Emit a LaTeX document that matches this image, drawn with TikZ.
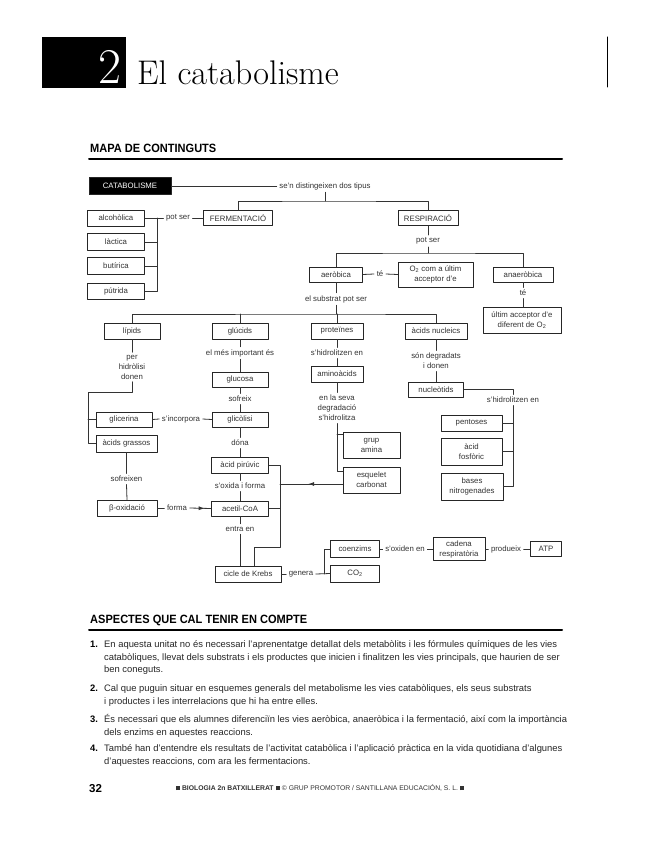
\documentclass[tikz,border=0pt]{standalone}
\usepackage{fontspec}
\setsansfont{Liberation Sans}
\newfontfamily\headfont[FakeStretch=0.92]{Liberation Sans}
\usetikzlibrary{arrows.meta,decorations.markings}

\tikzset{
	box/.style={draw=black!85, line width=0.8pt, minimum height=16pt, inner sep=1pt, align=center, text=black!80, font=\sffamily\fontsize{7.8}{10}\selectfont},
	tallbox/.style={box, minimum height=26pt},
	lbl/.style={inner sep=2.5pt, align=center, text=black!80, font=\sffamily\fontsize{7.8}{10}\selectfont},
	conn/.style={draw=black!80, line width=0.8pt},
	midarrow/.style={postaction={decorate}, decoration={markings, mark=at position #1 with {\arrow{Latex[length=6pt,width=4pt]}}}},
	head/.style={anchor=base west, inner sep=0pt, font=\headfont\bfseries\fontsize{12}{12}\selectfont},
	item/.style={anchor=north west, inner sep=0pt, align=left, text=black!85, font=\sffamily\fontsize{9.4}{12.3}\selectfont},
	num/.style={anchor=north west, inner sep=0pt, font=\sffamily\bfseries\fontsize{9.4}{12.3}\selectfont},
}
\newcommand{\firstln}{\rule{0pt}{9pt}}

\begin{document}
\begin{tikzpicture}[x=1pt, y=-1pt, line join=round, line cap=round]
	\useasboundingbox[fill=white] (0,0) rectangle (651,848);

	% capçalera
	\node[fill=black, minimum width=84pt, minimum height=51pt, anchor=north west, inner sep=0pt] (numbox) at (42,37) {};
	\node[anchor=base east, inner sep=0pt, text=white, font=\fontsize{50}{50}\selectfont] (numtxt) at (122,84) {2};
	\node[anchor=base west, inner sep=0pt, font=\fontsize{34.2}{34}\selectfont] (title) at (137,85) {El catabolisme};
	\draw[line width=1pt] (607,37) -- (607,87);
	\node[head] (mapa) at (90,152) {MAPA DE CONTINGUTS};
	\draw[line width=2pt] (89,159) -- (562,159);

	% catabolisme i tipus
	\node[box, fill=black, text=white, minimum width=82pt, minimum height=17pt] (catab) at (130,186) {CATABOLISME};
	\node[lbl] (dostipus) at (325,186) {se'n distingeixen dos tipus};
	\node[box, minimum width=69pt, minimum height=15pt] (ferm) at (238,218) {FERMENTACIÓ};
	\node[box, minimum width=60pt, minimum height=15pt] (resp) at (428,218) {RESPIRACIÓ};
	\node[lbl] (potser1) at (178,218) {pot ser};
	\node[box, minimum width=57pt] (alcoh) at (116,218) {alcohòlica};
	\node[box, minimum width=57pt, minimum height=17pt] (lact) at (116,242) {làctica};
	\node[box, minimum width=57pt, minimum height=17pt] (butir) at (116,266) {butírica};
	\node[box, minimum width=57pt] (putr) at (116,291) {pútrida};
	\node[lbl] (potser2) at (428,241) {pot ser};
	\node[box, minimum width=53pt, minimum height=15pt] (aerob) at (336,274.5) {aeròbica};
	\node[lbl] (te1) at (380,274) {té};
	\node[tallbox, minimum width=75pt, minimum height=25pt] (otwo) at (435.5,274.5) {O\textsubscript{2} com a últim\\acceptor d'e};
	\node[box, minimum width=60pt, minimum height=15pt] (anaer) at (523,274.5) {anaeròbica};
	\node[lbl] (te2) at (523,293) {té};
	\node[tallbox, minimum width=78pt] (ultim) at (522,320.5) {últim acceptor d'e\\diferent de O\textsubscript{2}};
	\node[lbl] (subst) at (336,299) {el substrat pot ser};

	% substrats
	\node[box, minimum width=56pt] (lipids) at (132,331) {lípids};
	\node[box, minimum width=56pt] (glucids) at (240,331) {glúcids};
	\node[box, minimum width=52pt] (prot) at (337,331) {proteïnes};
	\node[box, minimum width=62pt] (nucl) at (436,331) {àcids nucleics};

	\node[lbl] (perhid) at (132,367) {per\\hidròlisi\\donen};
	\node[box, minimum width=56pt, minimum height=15pt] (glicer) at (124,419.5) {glicerina};
	\node[box, minimum width=61pt, minimum height=17pt] (grassos) at (126.5,443.5) {àcids grassos};
	\node[lbl] (sofreixen) at (126.5,479) {sofreixen};
	\node[box, minimum width=60pt] (betaox) at (127,508) {β-oxidació};

	\node[lbl] (mesimp) at (240,353) {el més important és};
	\node[box, minimum width=56pt, minimum height=15pt] (glucosa) at (240,379.5) {glucosa};
	\node[lbl] (sofreix) at (240,399) {sofreix};
	\node[box, minimum width=56pt, minimum height=15pt] (glicol) at (240,419.5) {glicòlisi};
	\node[lbl] (incorp) at (181,419) {s'incorpora};
	\node[lbl] (dona) at (240,443) {dóna};
	\node[box, minimum width=57pt] (piruv) at (240,465) {àcid pirúvic};
	\node[lbl] (oxida) at (240,486) {s'oxida i forma};
	\node[box, minimum width=57pt, minimum height=15pt] (acetil) at (240,508.5) {acetil-CoA};
	\node[lbl] (forma) at (177,508) {forma};
	\node[lbl] (entra) at (240,529) {entra en};
	\node[box, minimum width=66pt] (krebs) at (248,574) {cicle de Krebs};

	\node[lbl] (hidro1) at (337,353) {s'hidrolitzen en};
	\node[box, minimum width=52pt] (amino) at (337,374) {aminoàcids};
	\node[lbl] (degrad) at (337,408) {en la seva\\degradació\\s'hidrolitza};
	\node[tallbox, minimum width=57pt] (amina) at (371.5,445) {grup\\amina};
	\node[tallbox, minimum width=57pt] (esquel) at (371.5,480) {esquelet\\carbonat};

	\node[lbl] (sondeg) at (436,361) {són degradats\\i donen};
	\node[box, minimum width=55pt, minimum height=15pt] (nucleot) at (436,389.5) {nucleòtids};
	\node[lbl] (hidro2) at (513,400) {s'hidrolitzen en};
	\node[box, minimum width=61pt] (pentos) at (471.5,423) {pentoses};
	\node[tallbox, minimum width=61pt, minimum height=27pt] (fosfor) at (471.5,451.5) {àcid\\fosfòric};
	\node[tallbox, minimum width=62pt, minimum height=27pt] (bases) at (472,486.5) {bases\\nitrogenades};

	\node[lbl] (genera) at (301,574) {genera};
	\node[box, minimum width=49pt, minimum height=17pt] (coenz) at (355,549) {coenzims};
	\node[box, minimum width=49pt, minimum height=17pt] (co2) at (355,573.5) {CO\textsubscript{2}};
	\node[lbl] (oxiden) at (405,549) {s'oxiden en};
	\node[tallbox, minimum width=52pt, minimum height=23pt] (cadena) at (459,549) {cadena\\respiratòria};
	\node[lbl] (produeix) at (506,549) {produeix};
	\node[box, minimum width=31pt, minimum height=15pt] (atp) at (546,549) {ATP};

	% connexions
	\coordinate (split) at (325,201);
	\coordinate (fbus) at (157,218);
	\coordinate (rbus) at (428,253);
	\coordinate (sbus) at (336,314);
	\coordinate (lbus) at (88,392);
	\coordinate (kbus) at (280,547);
	\coordinate (gbus) at (324,574);
	\draw[conn] (catab.east) -- (dostipus.west);
	\draw[conn] (dostipus.south) -- (split);
	\draw[conn] (ferm.north) |- (split) -| (resp.north);
	\draw[conn] (ferm.west) -- (potser1.east);
	\draw[conn] (potser1.west) -- (alcoh.east);
	\draw[conn] (fbus) |- (putr.east);
	\draw[conn] (lact.east) -- (lact.east -| fbus);
	\draw[conn] (butir.east) -- (butir.east -| fbus);
	\draw[conn] (resp.south) -- (potser2.north);
	\draw[conn] (potser2.south) -- (rbus);
	\draw[conn] (aerob.north) |- (rbus) -| (anaer.north);
	\draw[conn] (aerob.east) -- (te1.west);
	\draw[conn] (te1.east) -- (otwo.west);
	\draw[conn] (anaer.south) -- (te2.north);
	\draw[conn] (te2.south) -- (te2.south |- ultim.north);
	\draw[conn] (aerob.south) -- (subst.north);
	\draw[conn] (subst.south) -- (sbus);
	\draw[conn] (lipids.north) |- (sbus) -| (nucl.north);
	\draw[conn] (glucids.north) -- (glucids.north |- sbus);
	\draw[conn] (prot.north) -- (prot.north |- sbus);

	\draw[conn] (lipids.south) -- (perhid.north);
	\draw[conn] (perhid.south) |- (lbus) |- (grassos.west);
	\draw[conn] (glicer.west) -- (glicer.west -| lbus);
	\draw[conn] (glicer.east) -- (incorp.west);
	\draw[conn] (incorp.east) -- (glicol.west);
	\draw[conn] (grassos.south) -- (sofreixen.north);
	\draw[conn] (sofreixen.south) -- (betaox.north);
	\draw[conn] (betaox.east) -- (forma.west);
	\draw[conn, midarrow=0.7] (forma.east) -- (acetil.west);

	\draw[conn] (glucids.south) -- (mesimp.north);
	\draw[conn] (mesimp.south) -- (glucosa.north);
	\draw[conn] (glucosa.south) -- (sofreix.north);
	\draw[conn] (sofreix.south) -- (glicol.north);
	\draw[conn] (glicol.south) -- (dona.north);
	\draw[conn] (dona.south) -- (piruv.north);
	\draw[conn] (piruv.south) -- (oxida.north);
	\draw[conn] (oxida.south) -- (acetil.north);
	\draw[conn] (acetil.south) -- (entra.north);
	\draw[conn] (entra.south) -- (entra.south |- krebs.north);
	\draw[conn] (piruv.east) -| (kbus) -| ([xshift=6pt]krebs.north);
	\draw[conn] (acetil.east) -- (acetil.east -| kbus);
	\draw[conn, midarrow=0.55] ([yshift=-4pt]esquel.west) -- ([yshift=-4pt]esquel.west -| kbus);

	\draw[conn] (prot.south) -- (hidro1.north);
	\draw[conn] (hidro1.south) -- (amino.north);
	\draw[conn] (amino.south) -- (degrad.north);
	\draw[conn] (degrad.south) |- ([yshift=-5pt]esquel.north west);
	\draw[conn] ([yshift=-3pt]amina.north west) -- ([yshift=-3pt]amina.north west -| degrad.south);

	\draw[conn] (nucl.south) -- (sondeg.north);
	\draw[conn] (sondeg.south) -- (nucleot.north);
	\draw[conn] (nucleot.east) -| (hidro2.north);
	\draw[conn] (hidro2.south) |- (bases.east);
	\draw[conn] (pentos.east) -- (pentos.east -| hidro2.south);
	\draw[conn] (fosfor.east) -- (fosfor.east -| hidro2.south);

	\draw[conn] (krebs.east) -- (genera.west);
	\draw[conn] (genera.east) -- (co2.west);
	\draw[conn] (gbus) |- (coenz.west);
	\draw[conn] (coenz.east) -- (oxiden.west);
	\draw[conn] (oxiden.east) -- (cadena.west);
	\draw[conn] (cadena.east) -- (produeix.west);
	\draw[conn] (produeix.east) -- (atp.west);

	% aspectes
	\node[head] (aspectes) at (90,623) {ASPECTES QUE CAL TENIR EN COMPTE};
	\draw[line width=2pt] (89,630) -- (562,630);
	\node[num] (n1) at (90,638.5) {\firstln 1.};
	\node[item] (t1) at (104,638.5) {\firstln En aquesta unitat no és necessari l’aprenentatge detallat dels metabòlits i les fórmules químiques de les vies\\catabòliques, llevat dels substrats i els productes que inicien i finalitzen les vies principals, que haurien de ser\\ben coneguts.};
	\node[num] (n2) at (90,682.5) {\firstln 2.};
	\node[item] (t2) at (104,682.5) {\firstln Cal que puguin situar en esquemes generals del metabolisme les vies catabòliques, els seus substrats\\i productes i les interrelacions que hi ha entre elles.};
	\node[num] (n3) at (90,713.5) {\firstln 3.};
	\node[item] (t3) at (104,713.5) {\firstln És necessari que els alumnes diferenciïn les vies aeròbica, anaeròbica i la fermentació, així com la importància\\dels enzims en aquestes reaccions.};
	\node[num] (n4) at (90,742.5) {\firstln 4.};
	\node[item] (t4) at (104,742.5) {\firstln També han d’entendre els resultats de l’activitat catabòlica i l’aplicació pràctica en la vida quotidiana d’algunes\\d’aquestes reaccions, com ara les fermentacions.};

	% peu
	\node[anchor=base west, inner sep=0pt, font=\sffamily\bfseries\fontsize{11.5}{12}\selectfont] (pag) at (89,792) {32};
	\node[anchor=base, inner sep=0pt, text=black!80, font=\sffamily\fontsize{6.8}{8}\selectfont] (peu) at (320,790) {\rule{4.5pt}{4.5pt} \textbf{BIOLOGIA 2n BATXILLERAT} \rule{4.5pt}{4.5pt} © GRUP PROMOTOR / SANTILLANA EDUCACIÓN, S. L. \rule{4.5pt}{4.5pt}};
\end{tikzpicture}
\end{document}
